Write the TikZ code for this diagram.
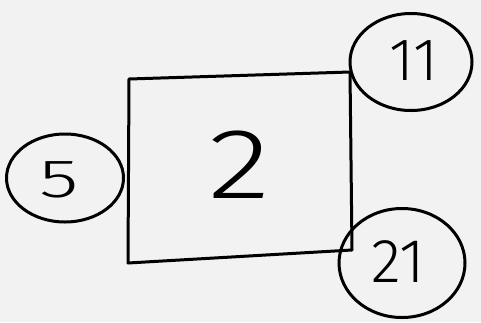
\documentclass[tikz,border=0pt]{standalone}
\usepackage{fontspec}
\newfontfamily\hand{Fira Sans Light}
\usetikzlibrary{shapes.geometric}
\definecolor{bgcol}{HTML}{F2F2F2}
\begin{document}
\begin{tikzpicture}[x=1pt,y=-1pt,line width=3pt,line join=round,line cap=round,
  bubble/.style={draw,ellipse,inner sep=0pt},
  digit/.style={inner sep=0pt,font=\hand}]
\fill[bgcol] (0,0) rectangle (481,322);
\useasboundingbox (0,0) rectangle (481,322);
\coordinate (tl) at (129,79);
\coordinate (tr) at (350,72);
\coordinate (br) at (352,250);
\coordinate (bl) at (128,263);
\draw (tl) -- (tr) -- (br) -- (bl) -- cycle;
\node[bubble,minimum width=117pt,minimum height=88pt] (c5) at (65,178) {};
\node[bubble,minimum width=122pt,minimum height=97pt] (c11) at (411,62) {};
\node[bubble,minimum width=126pt,minimum height=109pt] (c21) at (402,263) {};
\node[digit,font=\hand\fontsize{100}{100}\selectfont,xscale=1.3] (t2) at (240,165) {2};
\node[digit,font=\hand\fontsize{54}{54}\selectfont,xscale=1.5] (t5) at (59,180) {5};
\node[digit,font=\hand\fontsize{60}{60}\selectfont] (t11) at (414,61) {11};
\node[digit,font=\hand\fontsize{62}{62}\selectfont] (t21) at (398,262) {21};
\end{tikzpicture}
\end{document}
